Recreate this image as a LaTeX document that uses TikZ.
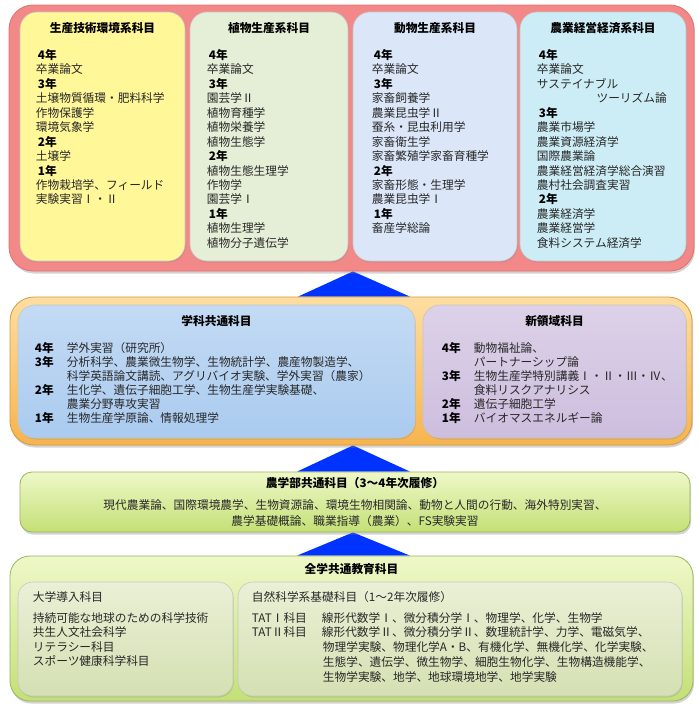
\documentclass[tikz,border=0pt]{standalone}
\usepackage{fontspec}
\setmainfont{Noto Sans CJK JP}
\usetikzlibrary{positioning, calc, shadows, backgrounds}

\definecolor{redfill}{RGB}{242,136,136}
\definecolor{redline}{RGB}{224,112,112}
\definecolor{yelfill}{RGB}{255,247,152}
\definecolor{grnfill}{RGB}{229,238,214}
\definecolor{blufill}{RGB}{219,231,248}
\definecolor{cyafill}{RGB}{205,237,246}
\definecolor{orgtop}{RGB}{253,222,160}
\definecolor{orgbot}{RGB}{247,180,78}
\definecolor{comfill}{RGB}{170,203,239}
\definecolor{newfill}{RGB}{205,190,222}
\definecolor{limetop}{RGB}{238,248,200}
\definecolor{limebot}{RGB}{196,224,118}
\definecolor{sagetop}{RGB}{234,240,214}
\definecolor{sagebot}{RGB}{212,224,178}
\definecolor{uptri}{RGB}{0,51,255}
\definecolor{txt}{RGB}{40,40,40}

\tikzset{
  bigbox/.style={rounded corners=24pt, inner sep=0pt, line width=0.8pt,
    drop shadow={shadow xshift=1pt, shadow yshift=-2.5pt, opacity=0.35}},
  subbox/.style={rounded corners=17pt, inner sep=0pt, line width=0.6pt, draw=white!55!gray,
    drop shadow={shadow xshift=0.8pt, shadow yshift=-1.5pt, opacity=0.25}},
  hdr/.style={font=\fontsize{11.7}{14}\selectfont\bfseries, inner sep=0pt, text=black},
  list/.style={font=\fontsize{11.7}{14.45}\selectfont, inner sep=0pt, align=left,
    anchor=north west, text=txt},
  uparrow/.style={fill=uptri}
}
\newcommand{\yr}[1]{\hspace*{2pt}{\bfseries\color{black}#1年}}
\newcommand{\yrc}[1]{\makebox[32pt][l]{\bfseries\color{black}#1年}}
\newcommand{\yrgap}{\hspace*{32pt}}

\begin{document}
\begin{tikzpicture}[x=1pt, y=-1pt]
    \useasboundingbox (0,0) rectangle (697,704);

    % Department courses
    \node[bigbox, fill=redfill, draw=redline, minimum width=685pt, minimum height=266pt] (dept) at (351.5,138) {};
    \node[subbox, fill=yelfill, minimum width=165pt, minimum height=249pt] (env) at (102.5,136.5) {};
    \node[subbox, fill=grnfill, minimum width=158pt, minimum height=249pt] (plant) at (269,136.5) {};
    \node[subbox, fill=blufill, minimum width=164pt, minimum height=249pt] (anim) at (435,136.5) {};
    \node[subbox, fill=cyafill, minimum width=166pt, minimum height=249pt] (econ) at (603,136.5) {};

    \node[hdr, below=11pt of env.north] {生産技術環境系科目};
    \node[hdr, below=11pt of plant.north] {植物生産系科目};
    \node[hdr, below=11pt of anim.north] {動物生産系科目};
    \node[hdr, below=11pt of econ.north] {農業経営経済系科目};

    \node[list] at ($(env.north west)+(16,37.5)$) {\yr{4}\\卒業論文\\\yr{3}\\土壌物質循環・肥料科学\\作物保護学\\環境気象学\\\yr{2}\\土壌学\\\yr{1}\\作物栽培学、フィールド\\実験実習Ⅰ・Ⅱ};
    \node[list] at ($(plant.north west)+(17,37.5)$) {\yr{4}\\卒業論文\\\yr{3}\\園芸学Ⅱ\\植物育種学\\植物栄養学\\植物生態学\\\yr{2}\\植物生態生理学\\作物学\\園芸学Ⅰ\\\yr{1}\\植物生理学\\植物分子遺伝学};
    \node[list] at ($(anim.north west)+(19,37.5)$) {\yr{4}\\卒業論文\\\yr{3}\\家畜飼養学\\農業昆虫学Ⅱ\\蚕糸・昆虫利用学\\家畜衛生学\\家畜繁殖学家畜育種学\\\yr{2}\\家畜形態・生理学\\農業昆虫学Ⅰ\\\yr{1}\\畜産学総論};
    \node[list] at ($(econ.north west)+(17,37.5)$) {\yr{4}\\卒業論文\\サステイナブル\\\hspace*{5.1em}ツーリズム論\\\yr{3}\\農業市場学\\農業資源経済学\\国際農業論\\農業経営経済学総合演習\\農村社会調査実習\\\yr{2}\\農業経済学\\農業経営学\\食料システム経済学};

    % Common and new-field courses
    \node[bigbox, top color=orgtop, bottom color=orgbot, draw=orgbot!85!black, minimum width=682pt, minimum height=148pt] (common) at (351,371) {};
    \node[subbox, top color=comfill!70!white, bottom color=comfill, minimum width=397pt, minimum height=133pt] (dcom) at (216.5,371.5) {};
    \node[subbox, top color=newfill!70!white, bottom color=newfill, minimum width=263pt, minimum height=133pt] (newf) at (554.5,371.5) {};

    \node[hdr, below=11pt of dcom.north] {学科共通科目};
    \node[hdr, below=11pt of newf.north] {新領域科目};

    \node[list, font=\fontsize{11.7}{14}\selectfont] at ($(dcom.north west)+(17,37.5)$) {\yrc{4}学外実習（研究所）\\\yrc{3}分析科学、農業微生物学、生物統計学、農産物製造学、\\\yrgap 科学英語論文講読、アグリバイオ実験、学外実習（農家）\\\yrc{2}生化学、遺伝子細胞工学、生物生産学実験基礎、\\\yrgap 農業分野専攻実習\\\yrc{1}生物生産学原論、情報処理学};
    \node[list, font=\fontsize{11.7}{14}\selectfont] at ($(newf.north west)+(19,37.5)$) {\yrc{4}動物福祉論、\\\yrgap パートナーシップ論\\\yrc{3}生物生産学特別講義Ⅰ・Ⅱ・Ⅲ・Ⅳ、\\\yrgap 食料リスクアナリシス\\\yrc{2}遺伝子細胞工学\\\yrc{1}バイオマスエネルギー論};

    % Faculty courses
    \node[bigbox, rounded corners=12pt, top color=limetop, bottom color=limebot, draw=limebot!80!black, minimum width=670pt, minimum height=60pt] (fac) at (355,502) {};
    \node[hdr, below=5.5pt of fac.north] {農学部共通科目（3〜4年次履修）};
    \node[list, anchor=north, align=center, font=\fontsize{11.7}{16.5}\selectfont] at ($(fac.north)+(0,27.5)$) {現代農業論、国際環境農学、生物資源論、環境生物相関論、動物と人間の行動、海外特別実習、\\農学基礎概論、職業指導（農業）、FS実験実習};

    % University-wide courses
    \node[bigbox, rounded corners=20pt, top color=limetop, bottom color=limebot, draw=limebot!80!black, minimum width=683pt, minimum height=145pt] (univ) at (351.5,628.5) {};
    \node[subbox, rounded corners=15pt, top color=sagetop, bottom color=sagebot, minimum width=215pt, minimum height=114pt] (intro) at (125.5,639) {};
    \node[subbox, rounded corners=15pt, top color=sagetop, bottom color=sagebot, minimum width=444pt, minimum height=114pt] (sci) at (460,639) {};

    \node[hdr, below=7.5pt of univ.north] {全学共通教育科目};
    \node[list] at ($(intro.north west)+(15,9.5)$) {大学導入科目};
    \node[list] at ($(intro.north west)+(15,30.5)$) {持続可能な地球のための科学技術\\共生人文社会科学\\リテラシー科目\\スポーツ健康科学科目};
    \node[list] at ($(sci.north west)+(14,9.5)$) {自然科学系基礎科目（1〜2年次履修）};
    \node[list, font=\fontsize{11.7}{14.7}\selectfont] at ($(sci.north west)+(14,30.5)$) {\makebox[70pt][l]{TATⅠ科目}線形代数学Ⅰ、微分積分学Ⅰ、物理学、化学、生物学\\\makebox[70pt][l]{TATⅡ科目}線形代数学Ⅱ、微分積分学Ⅱ、数理統計学、力学、電磁気学、\\\hspace*{71pt}物理学実験、物理化学A・B、有機化学、無機化学、化学実験、\\\hspace*{71pt}生態学、遺伝学、微生物学、細胞生物化学、生物構造機能学、\\\hspace*{71pt}生物学実験、地学、地球環境地学、地学実験};

    % Upward arrows
    \begin{scope}[on background layer]
        \fill[uparrow] ($(common.north)+(-53,0)$) -- ($(dept.south)+(1.5,0)$) -- ($(common.north)+(59,0)$) -- cycle;
        \fill[uparrow] ($(fac.north)+(-58,0)$) -- ($(common.south)+(2,0)$) -- ($(fac.north)+(55,0)$) -- cycle;
        \fill[uparrow] ($(univ.north)+(-54.5,0)$) -- ($(fac.south)+(-2,0)$) -- ($(univ.north)+(58.5,0)$) -- cycle;
    \end{scope}
\end{tikzpicture}
\end{document}
